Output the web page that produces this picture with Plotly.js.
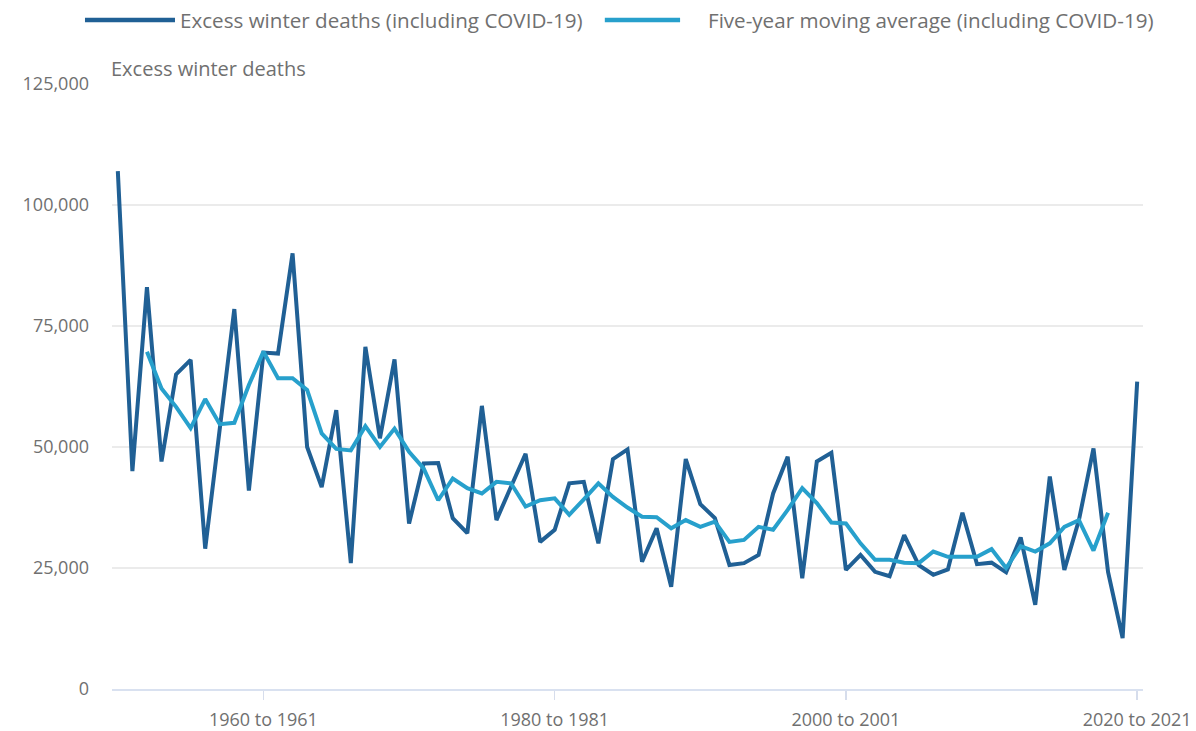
<!DOCTYPE html>
<html>
<head>
<meta charset="utf-8">
<script src="https://cdn.plot.ly/plotly-3.0.1.min.js"></script>
<style>
  html, body { margin: 0; padding: 0; background: #ffffff; }
  #chart { width: 1196px; height: 731px; }
</style>
</head>
<body>
<div id="chart"></div>
<script>
const categories = [
  "1950 to 1951","1951 to 1952","1952 to 1953","1953 to 1954","1954 to 1955",
  "1955 to 1956","1956 to 1957","1957 to 1958","1958 to 1959","1959 to 1960",
  "1960 to 1961","1961 to 1962","1962 to 1963","1963 to 1964","1964 to 1965",
  "1965 to 1966","1966 to 1967","1967 to 1968","1968 to 1969","1969 to 1970",
  "1970 to 1971","1971 to 1972","1972 to 1973","1973 to 1974","1974 to 1975",
  "1975 to 1976","1976 to 1977","1977 to 1978","1978 to 1979","1979 to 1980",
  "1980 to 1981","1981 to 1982","1982 to 1983","1983 to 1984","1984 to 1985",
  "1985 to 1986","1986 to 1987","1987 to 1988","1988 to 1989","1989 to 1990",
  "1990 to 1991","1991 to 1992","1992 to 1993","1993 to 1994","1994 to 1995",
  "1995 to 1996","1996 to 1997","1997 to 1998","1998 to 1999","1999 to 2000",
  "2000 to 2001","2001 to 2002","2002 to 2003","2003 to 2004","2004 to 2005",
  "2005 to 2006","2006 to 2007","2007 to 2008","2008 to 2009","2009 to 2010",
  "2010 to 2011","2011 to 2012","2012 to 2013","2013 to 2014","2014 to 2015",
  "2015 to 2016","2016 to 2017","2017 to 2018","2018 to 2019","2019 to 2020",
  "2020 to 2021"
];

const excessWinterDeaths = [
  107000, 45000, 83000, 47000, 65000, 68000, 29000, 54000, 78500, 41000,
  69500, 69300, 90000, 50000, 41700, 57600, 26000, 70700, 51800, 68100,
  34200, 46600, 46700, 35300, 32200, 58500, 34900, 41800, 48600, 30400,
  32900, 42500, 42800, 30100, 47500, 49500, 26300, 33200, 21100, 47500,
  38200, 35300, 25600, 26000, 27700, 40400, 48000, 22900, 47000, 48800,
  24600, 27700, 24200, 23300, 31800, 25600, 23600, 24700, 36400, 25800,
  26100, 24100, 31300, 17400, 43900, 24600, 34900, 49700, 24200, 10500,
  63500
];

const fiveYearAverage = [
  null, null, 69700, 62100, 58300, 53900, 59900, 54700, 55000, 62800,
  69700, 64200, 64200, 61800, 52800, 49600, 49300, 54300, 50000, 53800,
  49000, 45600, 39000, 43500, 41500, 40400, 42800, 42500, 37700, 39000,
  39400, 36000, 39200, 42500, 39700, 37500, 35600, 35500, 33200, 34900,
  33500, 34600, 30400, 30800, 33500, 32900, 37000, 41500, 38400, 34400,
  34200, 30100, 26700, 26700, 26100, 26000, 28400, 27300, 27300, 27300,
  28900, 25000, 29500, 28400, 30100, 33500, 34900, 28600, 36400, null,
  null
];

const tickLabels = ["1960 to 1961", "1980 to 1981", "2000 to 2001", "2020 to 2021"];
const yTicks = [0, 25000, 50000, 75000, 100000, 125000];

const seriesNames = [
  "Excess winter deaths (including COVID-19)",
  "Five-year moving average (including COVID-19)"
];
const colors = ["#206095", "#27a0cc"];
const textColor = "#707070";
const fontFamily = "'Open Sans', 'Noto Sans', sans-serif";

const traces = [
  {
    type: "scatter", mode: "lines", name: seriesNames[0],
    x: categories, y: excessWinterDeaths,
    line: { color: colors[0], width: 4 },
    showlegend: false
  },
  {
    type: "scatter", mode: "lines", name: seriesNames[1],
    x: categories, y: fiveYearAverage,
    line: { color: colors[1], width: 4 },
    connectgaps: false,
    showlegend: false
  }
];

const layout = {
  width: 1196, height: 731,
  margin: { l: 112, r: 53, t: 84, b: 42 },
  paper_bgcolor: "#ffffff",
  plot_bgcolor: "#ffffff",
  font: { family: fontFamily, size: 18, color: textColor },
  xaxis: {
    type: "category",
    range: [-0.4, 70.4],
    tickmode: "array",
    tickvals: tickLabels,
    ticktext: tickLabels,
    ticks: "outside",
    ticklen: 9,
    tickwidth: 1.5,
    tickcolor: "#d6ddec",
    showgrid: false,
    showline: true,
    linecolor: "#d9e1f0",
    linewidth: 2,
    ticklabelstandoff: 4,
    tickfont: { family: fontFamily, size: 18, color: textColor },
    fixedrange: true
  },
  yaxis: {
    range: [0, 125000],
    tickmode: "array",
    tickvals: yTicks,
    tickformat: ",d",
    showgrid: true,
    gridcolor: "#ebebeb",
    gridwidth: 1.5,
    zeroline: false,
    showline: false,
    ticks: "",
    ticklabelstandoff: 22,
    tickfont: { family: fontFamily, size: 18, color: textColor },
    fixedrange: true
  },
  shapes: [
    { type: "line", xref: "paper", yref: "paper",
      x0: -0.0262, x1: 0.0611, y0: 1.1058, y1: 1.1058,
      line: { color: colors[0], width: 4.5 } },
    { type: "line", xref: "paper", yref: "paper",
      x0: 0.478, x1: 0.551, y0: 1.1058, y1: 1.1058,
      line: { color: colors[1], width: 4.5 } }
  ],
  annotations: [
    { xref: "paper", yref: "paper", x: 0.064, y: 1.1058,
      xanchor: "left", yanchor: "middle", showarrow: false,
      text: seriesNames[0], font: { family: fontFamily, size: 20.6, color: textColor } },
    { xref: "paper", yref: "paper", x: 0.576, y: 1.1058,
      xanchor: "left", yanchor: "middle", showarrow: false,
      text: seriesNames[1], font: { family: fontFamily, size: 20.6, color: textColor } },
    { xref: "paper", yref: "paper", x: -0.003, y: 1.026,
      xanchor: "left", yanchor: "middle", showarrow: false,
      text: "Excess winter deaths", font: { family: fontFamily, size: 20, color: textColor } }
  ],
  showlegend: false
};

Plotly.newPlot("chart", traces, layout, { displayModeBar: false, staticPlot: true });
</script>
</body>
</html>
